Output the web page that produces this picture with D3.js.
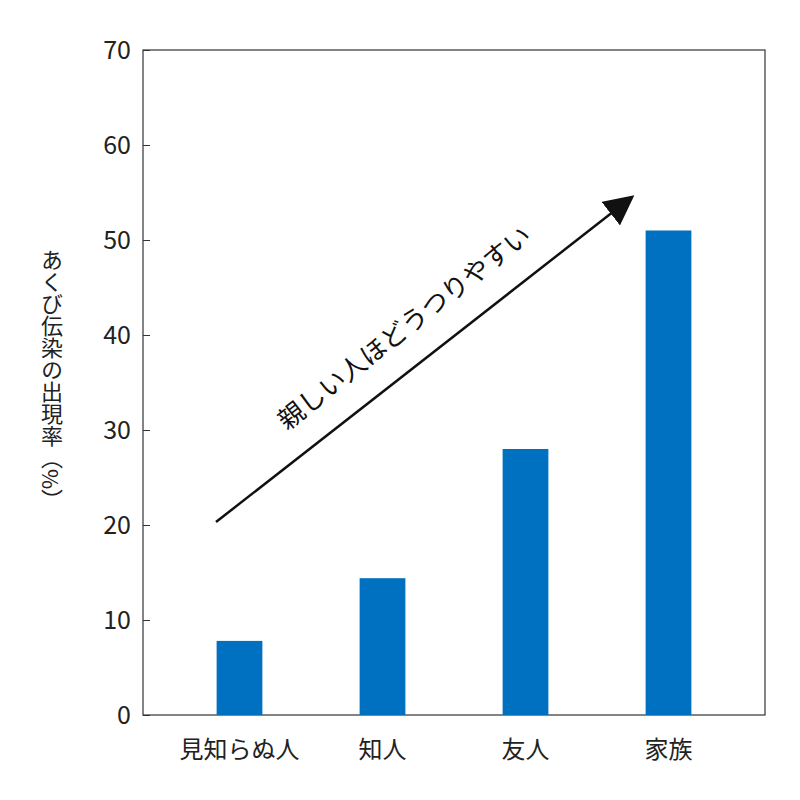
<!DOCTYPE html><html><head><meta charset="utf-8"><script src="https://cdn.jsdelivr.net/npm/d3@7"></script>
<style>body{margin:0;background:#fff}</style></head><body><svg width="800" height="800"></svg>
<script>
const categories=["見知らぬ人","知人","友人","家族"];
const values=[7.8,14.4,28,51];
const yTicks=[0,10,20,30,40,50,60,70];
const svg=d3.select("svg");
const L=143,R=765,T=50,B=715;
const x=d3.scaleBand().domain(categories).range([168,740]).paddingInner(0.68).paddingOuter(0.34);
const y=d3.scaleLinear().domain([0,70]).range([B,T]);
const f="'Noto Sans CJK JP','Noto Sans',sans-serif";
svg.append("rect").attr("x",L).attr("y",T).attr("width",R-L).attr("height",B-T).attr("fill","none").attr("stroke","#333").attr("stroke-width",1.2);
const ya=svg.append("g").attr("transform",`translate(${L},0)`).call(d3.axisRight(y).tickValues(yTicks).tickSize(7).tickFormat(""));
ya.select(".domain").remove();ya.selectAll("line").attr("stroke","#333");
svg.selectAll(".yt").data(yTicks).join("text").attr("x",L-12).attr("y",d=>y(d)).attr("dy","0.36em").attr("text-anchor","end").attr("font-family",f).attr("font-size",25).attr("fill","#222").text(d=>d);
svg.selectAll(".bar").data(values).join("rect").attr("x",(d,i)=>x(categories[i])).attr("width",x.bandwidth()).attr("y",d=>y(d)).attr("height",d=>B-y(d)).attr("fill","#0070c0");
svg.selectAll(".xt").data(categories).join("text").attr("x",d=>x(d)+x.bandwidth()/2).attr("y",758).attr("text-anchor","middle").attr("font-family",f).attr("font-size",24).attr("fill","#222").text(d=>d);
svg.append("text").attr("transform","translate(52,380)").attr("style","writing-mode:vertical-rl").attr("text-anchor","middle").attr("font-family",f).attr("font-size",22).attr("fill","#222").text("あくび伝染の出現率（%）");
svg.append("defs").append("marker").attr("id","ah").attr("viewBox","0 0 10 10").attr("refX",9).attr("refY",5).attr("markerWidth",12).attr("markerHeight",12).attr("markerUnits","userSpaceOnUse").attr("orient","auto")
 .append("path").attr("d","M0,0L10,5L0,10z").attr("fill","#111");
svg.select("marker").attr("markerWidth",30).attr("markerHeight",30);
svg.append("line").attr("x1",216).attr("y1",522).attr("x2",632).attr("y2",197).attr("stroke","#111").attr("stroke-width",2.5).attr("marker-end","url(#ah)");
svg.append("text").attr("transform","translate(410,335) rotate(-38)").attr("text-anchor","middle").attr("font-family",f).attr("font-size",26).attr("fill","#111").text("親しい人ほどうつりやすい");
</script></body></html>
